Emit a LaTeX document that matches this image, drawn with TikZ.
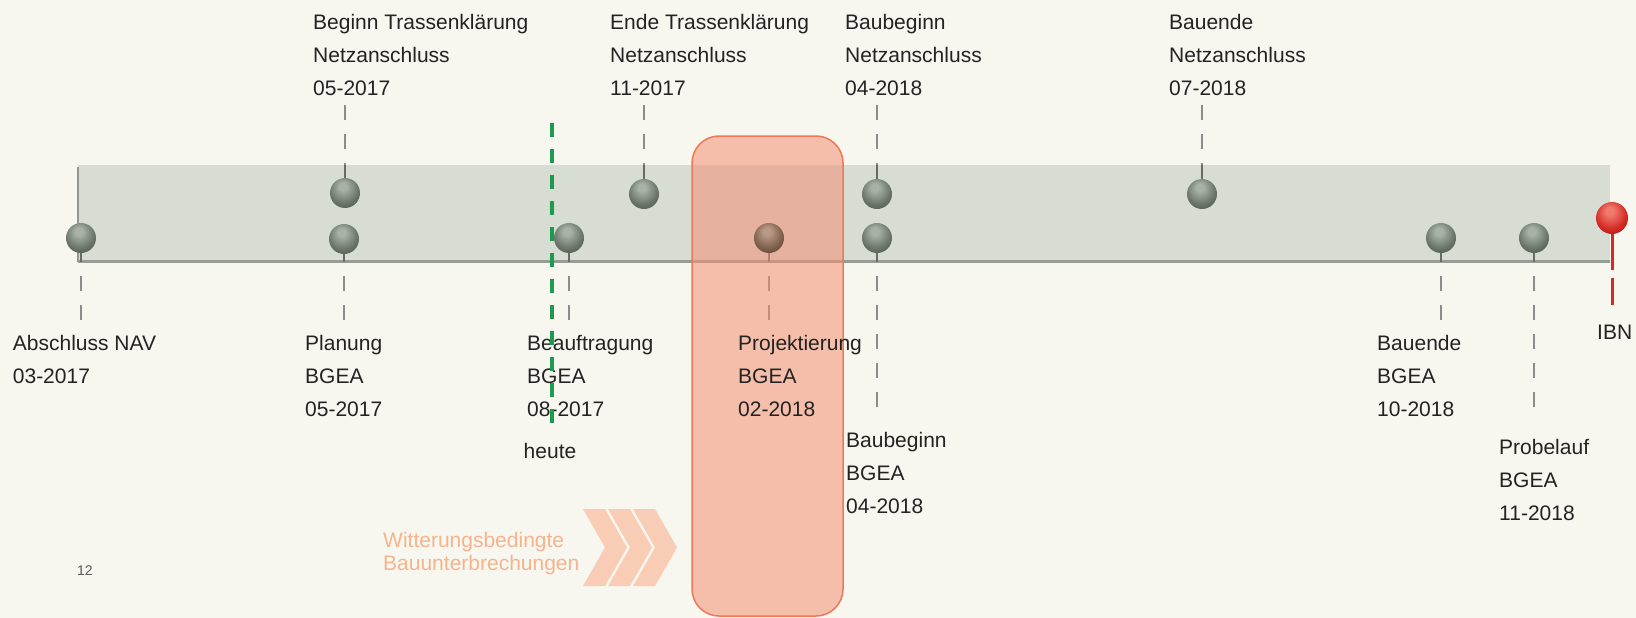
\documentclass[tikz,border=0pt]{standalone}
\usepackage{fontspec}
\setmainfont{Liberation Sans}
\definecolor{bg}{HTML}{F7F6EF}
\definecolor{bandc}{HTML}{D8DDD4}
\definecolor{bandline}{HTML}{959E96}
\definecolor{pinhi}{HTML}{A9B2A7}
\definecolor{pinbase}{HTML}{6B7569}
\definecolor{pindark}{HTML}{444C43}
\definecolor{brhi}{HTML}{B89A86}
\definecolor{brbase}{HTML}{7E604D}
\definecolor{brdark}{HTML}{533C2E}
\definecolor{redhi}{HTML}{F27A6C}
\definecolor{redbase}{HTML}{D42B24}
\definecolor{reddark}{HTML}{8E1712}
\definecolor{dashgray}{HTML}{8C8C8C}
\definecolor{stemgray}{HTML}{656B66}
\definecolor{heutegreen}{HTML}{1E9A4E}
\definecolor{ibnred}{HTML}{D42B24}
\definecolor{boxfill}{HTML}{F39074}
\definecolor{boxline}{HTML}{F07856}
\definecolor{chev}{HTML}{F9CDB5}
\definecolor{wtext}{HTML}{F5B48E}
\definecolor{txt}{HTML}{232323}
\pgfdeclareradialshading{pinshade}{\pgfqpoint{-4bp}{12bp}}{color(0bp)=(pinhi); color(6bp)=(pinhi); color(24bp)=(pinbase); color(40bp)=(pindark); color(60bp)=(pindark)}
\pgfdeclareradialshading{brshade}{\pgfqpoint{-4bp}{12bp}}{color(0bp)=(brhi); color(6bp)=(brhi); color(24bp)=(brbase); color(40bp)=(brdark); color(60bp)=(brdark)}
\pgfdeclareradialshading{redshade}{\pgfqpoint{-4bp}{12bp}}{color(0bp)=(redhi); color(6bp)=(redhi); color(24bp)=(redbase); color(40bp)=(reddark); color(60bp)=(reddark)}
\pgfdeclarelayer{back}
\pgfsetlayers{back,main}
\begin{document}
\begin{tikzpicture}[x=1pt,y=-1pt,
  pinball/.style={circle,minimum size=30pt,inner sep=0pt,shading=pinshade},
  brball/.style={circle,minimum size=30pt,inner sep=0pt,shading=brshade},
  redball/.style={circle,minimum size=32pt,inner sep=0pt,shading=redshade},
  stemline/.style={draw=stemgray,line width=2pt},
  dashline/.style={draw=dashgray,line width=2.6pt,dash pattern=on 15pt off 14pt,dash phase=15pt},
  dashup/.style={draw=dashgray,line width=2.6pt,dash pattern=on 15pt off 14pt},
  heuteline/.style={draw=heutegreen,line width=3.5pt,dash pattern=on 14pt off 12pt},
  ibnline/.style={draw=ibnred,line width=3pt,dash pattern=on 52pt off 8pt on 27pt off 100pt},
  lab/.style={anchor=north west,inner sep=0pt,align=left,text=txt,font=\fontsize{21}{33}\selectfont},
  wlab/.style={anchor=north west,inner sep=0pt,align=left,text=wtext,font=\fontsize{21}{23}\selectfont},
  chevron/.style={fill=chev},
]
\useasboundingbox (0,0) rectangle (1636,618);

% background and band
\begin{pgfonlayer}{back}
\fill[bg] (0,0) rectangle (1636,618);
\fill[bandc] (78,165) rectangle (1610,262);
\draw[bandline,line width=3pt] (78,261) -- (1610,261);
\draw[stemgray!70,line width=1.2pt] (78,167) -- (78,262);
\end{pgfonlayer}
\coordinate (bt) at (0,165);
\coordinate (bb) at (0,262);

% weather box
\draw[draw=boxline,line width=1.5pt,fill=boxfill,fill opacity=0.55,rounded corners=27pt] (692,136) rectangle (843,616);

% pins
\node[pinball] (pA)   at (81,238) {};
\node[pinball] (pPl)  at (344,239) {};
\node[pinball] (pBe)  at (569,238) {};
\node[brball]  (pPr)  at (769,238) {};
\node[pinball] (pBbL) at (877,238) {};
\node[pinball] (pBeL) at (1441,238) {};
\node[pinball] (pPb)  at (1534,238) {};
\node[pinball] (pTr)  at (345,193) {};
\node[pinball] (pTe)  at (644,194) {};
\node[pinball] (pBbU) at (877,194) {};
\node[pinball] (pBeU) at (1202,194) {};
\node[redball] (pI)   at (1612,218) {};

% end coordinates of connectors
\coordinate (eA)   at (81,321);
\coordinate (ePl)  at (344,321);
\coordinate (eBe)  at (569,321);
\coordinate (ePr)  at (769,321);
\coordinate (eBbL) at (877,408);
\coordinate (eBeL) at (1441,321);
\coordinate (ePb)  at (1534,408);
\coordinate (sTr)  at (345,105);
\coordinate (sTe)  at (644,105);
\coordinate (sBbU) at (877,105);
\coordinate (sBeU) at (1202,105);
\coordinate (eI)   at (1612,305);

% stems and dashes (behind pins)
\begin{pgfonlayer}{back}
\foreach \p/\e in {pA/eA,pPl/ePl,pBe/eBe,pPr/ePr,pBbL/eBbL,pBeL/eBeL,pPb/ePb}{
  \draw[stemline] (\p.center) -- (\p |- bb);
  \draw[dashline] (\p |- bb) -- (\e);
}
\foreach \p/\s in {pTr/sTr,pTe/sTe,pBbU/sBbU,pBeU/sBeU}{
  \draw[stemline] (\p.center) -- (\p |- bt);
  \draw[dashup] (\s) -- (\p |- bt);
}
\draw[ibnline] (pI.center) -- (eI);
\end{pgfonlayer}

% chevrons
\foreach \x in {583,608,633}{
  \fill[chevron] (\x,509) -- (\x+22,509) -- (\x+44,547.5) -- (\x+22,586) -- (\x,586) -- (\x+22,547.5) -- cycle;
}
\node[wlab] (wt) at (383,532) {Witterungsbedingte\\Bauunterbrechungen};

% labels
\node[lab] (lTr)  at (313,13.7) {Beginn Trassenklärung\\Netzanschluss\\05-2017};
\node[lab] (lTe)  at (610,13.7) {Ende Trassenklärung\\Netzanschluss\\11-2017};
\node[lab] (lBbU) at (845,13.7) {Baubeginn\\Netzanschluss\\04-2018};
\node[lab] (lBeU) at (1169,13.7) {Bauende\\Netzanschluss\\07-2018};

\node[lab] (lA)   at (12.7,335) {Abschluss NAV\\03-2017};
\node[lab] (lPl)  at (305,335) {Planung\\BGEA\\05-2017};
\node[lab] (lBe)  at (527,335) {Beauftragung\\BGEA\\08-2017};
\node[lab] (lPr)  at (738,335) {Projektierung\\BGEA\\02-2018};
\node[lab] (lBbL) at (846,432) {Baubeginn\\BGEA\\04-2018};
\node[lab] (lBeL) at (1377,335) {Bauende\\BGEA\\10-2018};
\node[lab] (lPb)  at (1499,439) {Probelauf\\BGEA\\11-2018};
\node[lab] (lI)   at (1597,325) {IBN};

% heute line
\node[anchor=north,inner sep=0pt,text=txt,font=\fontsize{21}{33}\selectfont] (heute) at (550,443) {heute};
\coordinate (hTop) at (552,123);
\coordinate (hBot) at (552,423);
\draw[heuteline] (hTop) -- (hBot);

% page number
\node[anchor=base west,inner sep=0pt,text=black!65,font=\fontsize{14}{16}\selectfont] (pg) at (77,575) {12};
\end{tikzpicture}
\end{document}
